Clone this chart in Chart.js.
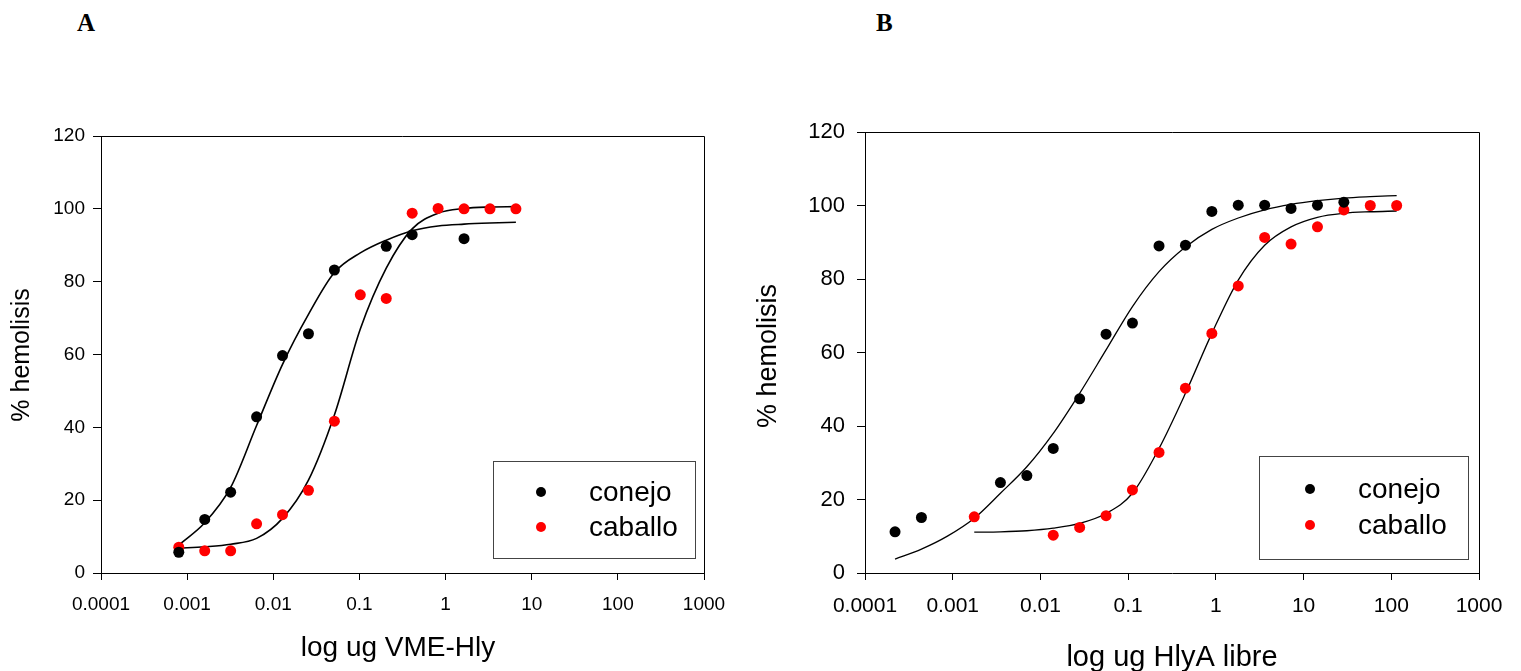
<!DOCTYPE html>
<html>
<head>
<meta charset="utf-8">
<script src="https://cdn.jsdelivr.net/npm/chart.js@4.4.1/dist/chart.umd.min.js"></script>
<style>
  body { margin: 0; background: #fff; width: 1521px; height: 671px; overflow: hidden; position: relative; }
  canvas { position: absolute; top: 0; }
  #chartA { left: 0; }
  #chartB { left: 740px; }
  .panel-letter { position: absolute; top: 9px; font-family: "Liberation Serif", "Times New Roman", serif; font-weight: bold; font-size: 25px; color: #000; }
</style>
</head>
<body>
<div class="panel-letter" style="left:77px">A</div>
<div class="panel-letter" style="left:876px">B</div>
<canvas id="chartA" width="740" height="671"></canvas>
<canvas id="chartB" width="781" height="671"></canvas>
<script>
// ---- data ----
const xTicks = [0.0001, 0.001, 0.01, 0.1, 1, 10, 100, 1000];
const yTicks = [0, 20, 40, 60, 80, 100, 120];
const seriesNames = ["conejo", "caballo"];

// panel A : log ug VME-Hly
const doseA = [0.0008, 0.0016, 0.0032, 0.0064, 0.0128, 0.0256, 0.0512, 0.1024, 0.2048, 0.4096, 0.8192, 1.6384, 3.2768, 6.5536];
const conejoA = [5.7, 14.7, 22.2, 42.9, 59.7, 65.7, 83.2, null, 89.7, 92.9, null, 91.8, null, null];
const caballoA = [7.1, 6.1, 6.1, 13.5, 16.0, 22.7, 41.7, 76.4, 75.4, 98.8, 100.1, 100, 100, 100];
const fitConejoA = [7.7, 13.8, 23.5, 40.5, 57.3, 71.0, 82.5, 87.9, 91.4, 94.0, 95.3, 95.8, 96.1, 96.3];
const fitCaballoA = [6.8, 7.2, 7.9, 9.5, 15.0, 25.5, 43.4, 67.0, 83.7, 94.5, 98.8, 100.1, 100.5, 100.6];

// panel B : log ug HlyA libre
const doseB = [0.00022, 0.00044, 0.00088, 0.00176, 0.0035, 0.007, 0.014, 0.028, 0.056, 0.112, 0.225, 0.45, 0.9, 1.8, 3.6, 7.2, 14.4, 28.8, 57.6, 115.2];
const conejoB = [11.2, 15.1, null, null, 24.6, 26.5, 33.9, 47.4, 65.0, 68.0, 89.0, 89.2, 98.4, 100.1, 100.1, 99.2, 100.1, 100.9, null, null];
const caballoB = [null, null, null, 15.3, null, null, 10.3, 12.4, 15.6, 22.6, 32.8, 50.3, 65.2, 78.1, 91.3, 89.5, 94.2, 98.8, 100.0, 100.0];
const fitConejoB = [3.8, 6.5, 10.1, 14.9, 21.7, 28.9, 38.0, 48.9, 60.7, 72.5, 82.0, 88.7, 93.5, 96.6, 98.8, 100.3, 101.3, 102.0, 102.4, 102.7];
const fitCaballoB = [null, null, null, 11.1, 11.2, 11.5, 12.2, 13.5, 16.2, 21.7, 33.9, 48.9, 65.2, 79.7, 89.2, 94.2, 96.8, 97.9, 98.3, 98.5];

const colors = ["#000000", "#ff0000"];
const FONT = '"Liberation Sans", Arial, sans-serif';

function toPoints(xs, ys) {
  let pts = [];
  xs.forEach((x, i) => {
    if (ys[i] !== null) pts = [...pts, { x: x, y: ys[i] }];
  });
  return pts;
}

// frame, axis titles and the boxed legend
function decorPlugin(opt) {
  return {
    id: "decor",
    afterDraw(chart) {
      const ctx = chart.ctx;
      const a = chart.chartArea;
      ctx.save();
      ctx.strokeStyle = "#000";
      ctx.lineWidth = 1;
      ctx.beginPath();
      ctx.moveTo(a.left, a.top + 0.5);
      ctx.lineTo(a.right + 0.5, a.top + 0.5);
      ctx.lineTo(a.right + 0.5, a.bottom);
      ctx.stroke();

      ctx.fillStyle = "#000";
      ctx.textAlign = "center";
      ctx.textBaseline = "middle";
      ctx.font = opt.titleSize + "px " + FONT;
      ctx.fillText(opt.xTitle, opt.xTitlePos[0], opt.xTitlePos[1]);
      ctx.save();
      ctx.translate(opt.yTitlePos[0], opt.yTitlePos[1]);
      ctx.rotate(-Math.PI / 2);
      ctx.font = opt.yTitleSize + "px " + FONT;
      ctx.fillText(opt.yTitle, 0, 0);
      ctx.restore();

      // legend
      const lg = opt.legend;
      ctx.strokeStyle = "#444";
      ctx.strokeRect(lg.x + 0.5, lg.y + 0.5, lg.w, lg.h);
      ctx.font = lg.size + "px " + FONT;
      ctx.textAlign = "left";
      seriesNames.forEach((name, i) => {
        ctx.fillStyle = colors[i];
        ctx.beginPath();
        ctx.arc(lg.dotX, lg.rows[i], 5, 0, Math.PI * 2);
        ctx.fill();
        ctx.fillStyle = "#000";
        ctx.fillText(name, lg.textX, lg.rows[i] + 1);
      });
      ctx.restore();
    }
  };
}

function makeChart(target, o) {
  const axisGrid = { display: true, drawOnChartArea: false, drawTicks: true, tickLength: 7, color: "#000", lineWidth: 1 };
  return new Chart(target, {
    type: "scatter",
    data: {
      datasets: [
        { label: seriesNames[0], data: toPoints(o.dose, o.conejo), backgroundColor: colors[0], borderColor: colors[0], pointRadius: 5.5, pointBorderWidth: 0, order: 1 },
        { label: seriesNames[1], data: toPoints(o.dose, o.caballo), backgroundColor: colors[1], borderColor: colors[1], pointRadius: 5.5, pointBorderWidth: 0, order: 2 },
        { label: "fit conejo", data: toPoints(o.dose, o.fitConejo), showLine: true, pointRadius: 0, borderColor: "#000", borderWidth: o.lineWidth, cubicInterpolationMode: "monotone", order: 3 },
        { label: "fit caballo", data: toPoints(o.dose, o.fitCaballo), showLine: true, pointRadius: 0, borderColor: "#000", borderWidth: o.lineWidth, cubicInterpolationMode: "monotone", order: 4 }
      ]
    },
    options: {
      responsive: false,
      animation: false,
      devicePixelRatio: 1,
      layout: { padding: { left: 0, top: o.top, right: o.right, bottom: 0 } },
      plugins: { legend: { display: false }, tooltip: { enabled: false } },
      scales: {
        x: {
          type: "logarithmic",
          min: 0.0001,
          max: 1000,
          afterBuildTicks: (scale) => { scale.ticks = xTicks.map((v) => ({ value: v })); },
          afterFit: (scale) => { scale.height = o.xAxisHeight; },
          ticks: { color: "#000", font: { family: FONT, size: o.tickSize }, padding: o.xPad, maxRotation: 0, autoSkip: false, callback: (v) => String(v) },
          grid: axisGrid,
          border: { display: true, color: "#000", width: 1 }
        },
        y: {
          min: 0,
          max: 120,
          afterBuildTicks: (scale) => { scale.ticks = yTicks.map((v) => ({ value: v })); },
          afterFit: (scale) => { scale.width = o.left; },
          ticks: { color: "#000", font: { family: FONT, size: o.yTickSize }, padding: o.yPad },
          grid: Object.assign({}, axisGrid, { tickLength: 8 }),
          border: { display: true, color: "#000", width: 1 }
        }
      }
    },
    plugins: [decorPlugin(o.decor)]
  });
}

makeChart(document.querySelector("#chartA"), {
  dose: doseA, conejo: conejoA, caballo: caballoA, fitConejo: fitConejoA, fitCaballo: fitCaballoA,
  left: 101, top: 136, right: 36, xAxisHeight: 98, tickSize: 19, yTickSize: 19, xPad: 13, yPad: 8, lineWidth: 1.6,
  decor: {
    xTitle: "log ug VME-Hly", xTitlePos: [398, 648], titleSize: 28,
    yTitle: "% hemolisis", yTitlePos: [22, 355], yTitleSize: 25,
    legend: { x: 493, y: 461, w: 202, h: 97, size: 28, dotX: 541, textX: 589, rows: [492, 527] }
  }
});

makeChart(document.querySelector("#chartB"), {
  dose: doseB, conejo: conejoB, caballo: caballoB, fitConejo: fitConejoB, fitCaballo: fitCaballoB,
  left: 125, top: 132, right: 42, xAxisHeight: 98, tickSize: 21, yTickSize: 22, xPad: 14, yPad: 12, lineWidth: 1.3,
  decor: {
    xTitle: "log ug HlyA libre", xTitlePos: [432, 658], titleSize: 29,
    yTitle: "% hemolisis", yTitlePos: [29, 356], yTitleSize: 27,
    legend: { x: 519, y: 456, w: 209, h: 103, size: 28, dotX: 570, textX: 618, rows: [489, 525] }
  }
});
</script>
</body>
</html>
